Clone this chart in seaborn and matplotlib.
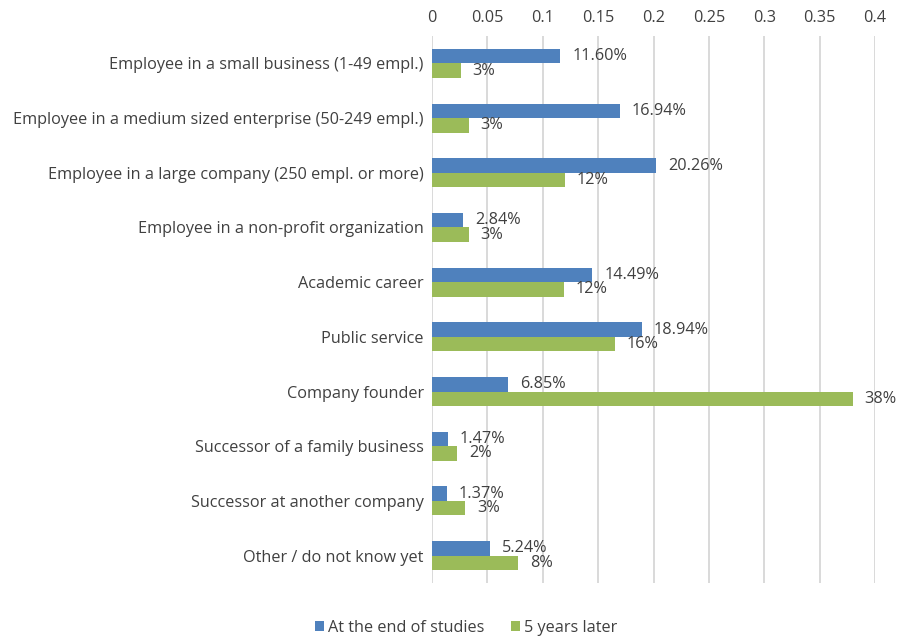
import matplotlib
matplotlib.use("Agg")
import matplotlib.pyplot as plt
import seaborn as sns
import pandas as pd
import numpy as np

categories = [
    "Employee in a small business (1-49 empl.)",
    "Employee in a medium sized enterprise (50-249 empl.)",
    "Employee in a large company (250 empl. or more)",
    "Employee in a non-profit organization",
    "Academic career",
    "Public service",
    "Company founder",
    "Successor of a family business",
    "Successor at another company",
    "Other / do not know yet",
]
end_of_studies = [0.1160, 0.1694, 0.2026, 0.0284, 0.1449, 0.1894, 0.0685, 0.0147, 0.0137, 0.0524]
five_years = [0.026, 0.033, 0.120, 0.033, 0.119, 0.165, 0.380, 0.023, 0.030, 0.078]
end_labels = ["11.60%", "16.94%", "20.26%", "2.84%", "14.49%", "18.94%", "6.85%", "1.47%", "1.37%", "5.24%"]
five_labels = ["3%", "3%", "12%", "3%", "12%", "16%", "38%", "2%", "3%", "8%"]
series_names = ["At the end of studies", "5 years later"]
xticks = [0, 0.05, 0.1, 0.15, 0.2, 0.25, 0.3, 0.35, 0.4]
xtick_labels = ["0", "0.05", "0.1", "0.15", "0.2", "0.25", "0.3", "0.35", "0.4"]

df = pd.DataFrame({
    "category": categories * 2,
    "value": end_of_studies + five_years,
    "series": [series_names[0]] * len(categories) + [series_names[1]] * len(categories),
})

sns.set_theme(style="white")
plt.rcParams["font.family"] = ["Open Sans", "DejaVu Sans"]
text_color = "#404040"
fs = 11.7

fig = plt.figure(figsize=(8.99, 6.37), dpi=100)
ax = fig.add_axes([432 / 899, 1 - 583 / 637, (875 - 432) / 899, (583 - 36) / 637])

palette = {series_names[0]: "#4F81BD", series_names[1]: "#9BBB59"}
sns.barplot(data=df, y="category", x="value", hue="series", order=categories,
            hue_order=series_names, palette=palette, orient="h", width=0.53,
            saturation=1, linewidth=0, ax=ax, legend=True)

ax.set_xlim(0, 0.4)
ax.set_xticks(xticks)
ax.set_xticklabels(xtick_labels)
ax.xaxis.tick_top()
ax.set_xlabel("")
ax.set_ylabel("")
ax.grid(axis="x", color="#d9d9d9", linewidth=1.4)
ax.set_axisbelow(True)
for s in ax.spines.values():
    s.set_visible(False)
ax.tick_params(axis="both", length=0, colors=text_color, labelsize=fs)
ax.tick_params(axis="y", pad=6)
ax.tick_params(axis="x", pad=7)

for container, labels in zip(ax.containers, [end_labels, five_labels]):
    ax.bar_label(container, labels=labels, padding=8.5, color=text_color, fontsize=fs)

handles, lbls = ax.get_legend_handles_labels()
ax.legend(handles, lbls, loc="center", bbox_to_anchor=(466 / 899, 1 - 628 / 637),
          bbox_transform=fig.transFigure, ncol=2, frameon=False, fontsize=fs,
          handlelength=0.55, handleheight=0.55, handletextpad=0.25, columnspacing=1.6,
          labelcolor=text_color)

fig.savefig("out.png", dpi=100)
